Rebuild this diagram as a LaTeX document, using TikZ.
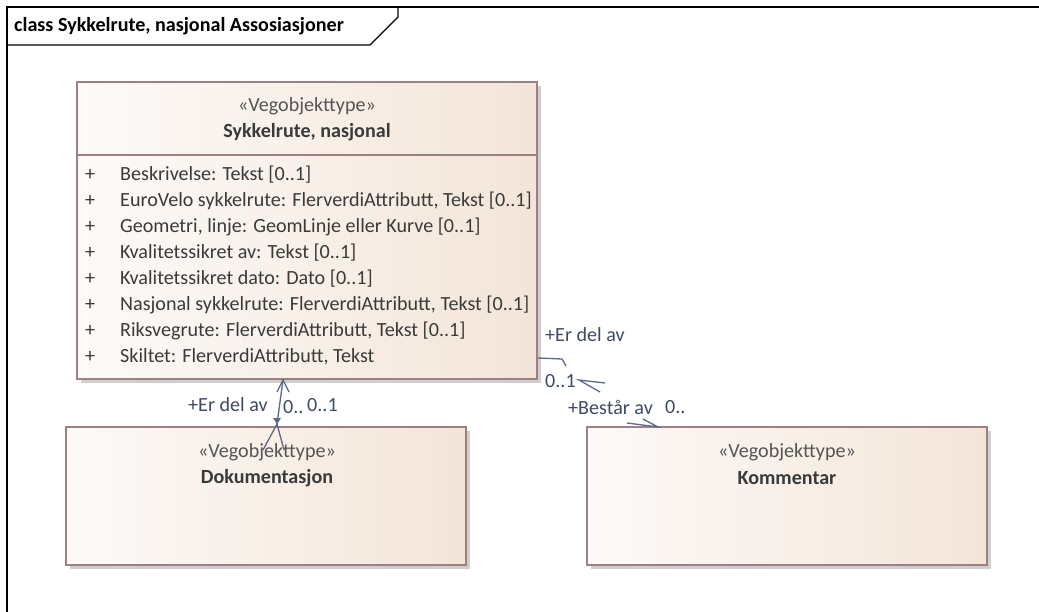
\documentclass[tikz,border=0pt]{standalone}
\usepackage{fontspec}
\setmainfont{Carlito}
\usetikzlibrary{arrows.meta}
\definecolor{boxline}{HTML}{9C8084}
\definecolor{fillL}{HTML}{FDFAF8}
\definecolor{fillR}{HTML}{F3E5D8}
\definecolor{shadowc}{HTML}{CFCFCF}
\definecolor{txt}{HTML}{3A3A3A}
\definecolor{stereo}{HTML}{555555}
\definecolor{conn}{HTML}{5B6888}
\definecolor{lbl}{HTML}{3F4A66}
\newcommand{\dfont}{\fontsize{20.1}{22}\selectfont}
\tikzset{
  umlbox/.style={draw=boxline, line width=1.2pt, left color=fillL, right color=fillR, anchor=north west, inner sep=0pt, outer sep=0pt},
  stereotxt/.style={font=\dfont, text=stereo, anchor=center, inner sep=0pt},
  nametxt/.style={font=\dfont\bfseries, text=txt, anchor=center, inner sep=0pt},
  attr/.style={font=\dfont, text=txt, anchor=west, inner sep=0pt},
  conntxt/.style={font=\dfont, text=lbl, anchor=west, inner sep=0pt},
  connline/.style={draw=conn, line width=1.3pt},
}
\begin{document}
\begin{tikzpicture}[x=1pt,y=-1pt]
\useasboundingbox (0,0) rectangle (1039,612);
\fill[white] (0,0) rectangle (1039,612);
% frame
\draw[line width=2pt, black] (1039,7) -- (7,7) -- (7,612);
\draw[line width=1.2pt, black] (7,45) -- (370,45) -- (398,17) -- (398,7);
\node[font=\dfont\bfseries, anchor=west, inner sep=0pt] (title) at (14,26) {class Sykkelrute, nasjonal Assosiasjoner};

% shadows
\fill[shadowc] (81,86) rectangle (541,383);
\fill[shadowc] (70,431) rectangle (470,569);
\fill[shadowc] (591,431) rectangle (991,569);

% boxes
\node[umlbox, minimum width=460pt, minimum height=297pt] (main) at (77,82) {};
\draw[boxline, line width=1.2pt] (77,155) -- (537,155);
\node[umlbox, minimum width=400pt, minimum height=138pt] (doc) at (66,427) {};
\node[umlbox, minimum width=400pt, minimum height=138pt] (kom) at (587,427) {};

% main text
\node[stereotxt] (ms) at (307,106) {«Vegobjekttype»};
\node[nametxt] (mn) at (307,132) {Sykkelrute, nasjonal};
\foreach \i/\t in {0/{Beskrivelse: Tekst [0..1]},
                   1/{EuroVelo sykkelrute: FlerverdiAttributt, Tekst [0..1]},
                   2/{Geometri, linje: GeomLinje eller Kurve [0..1]},
                   3/{Kvalitetssikret av: Tekst [0..1]},
                   4/{Kvalitetssikret dato: Dato [0..1]},
                   5/{Nasjonal sykkelrute: FlerverdiAttributt, Tekst [0..1]},
                   6/{Riksvegrute: FlerverdiAttributt, Tekst [0..1]},
                   7/{Skiltet: FlerverdiAttributt, Tekst}} {
  \node[attr] (plus\i) at (85,175+26*\i) {+};
  \node[attr] (attr\i) at (120,175+26*\i) {\t};
}

% doc text
\node[stereotxt] (ds) at (267,452) {«Vegobjekttype»};
\node[nametxt] (dn) at (267,478) {Dokumentasjon};
% kom text
\node[stereotxt] (ks) at (787,452) {«Vegobjekttype»};
\node[nametxt] (kn) at (787,478) {Kommentar};

% connector doc -> main
\coordinate (c1top) at (283,380);
\coordinate (c1bot) at (277,424);
\draw[connline] (c1bot) -- (c1top);
\draw[connline] (277,392) -- (c1top) -- (289,392);
\draw[connline] (263,450) -- (c1bot) -- (284,450);
\fill[conn] (c1bot) -- (273,418) -- (281,418) -- cycle;
\node[conntxt] (l1a) at (188,405) {+Er del av};
\node[conntxt] (l1b) at (283,407) {0..};
\node[conntxt] (l1c) at (307,405) {0..1};

% connector kom -> main (fragments)
\coordinate (c2a) at (538,358);
\draw[connline] (c2a) -- (562,359) -- (566,366);
\coordinate (c2b) at (579,380);
\draw[connline] (605,383) -- (c2b) -- (600,392);
\coordinate (c2c) at (658,427);
\draw[connline] (627,423) -- (c2c) -- (643,419);
\node[conntxt] (l2a) at (545,335) {+Er del av};
\node[conntxt] (l2b) at (545,381) {0..1};
\node[conntxt] (l2c) at (568,407) {+Består av};
\node[conntxt] (l2d) at (665,407) {0..};
\end{tikzpicture}
\end{document}
